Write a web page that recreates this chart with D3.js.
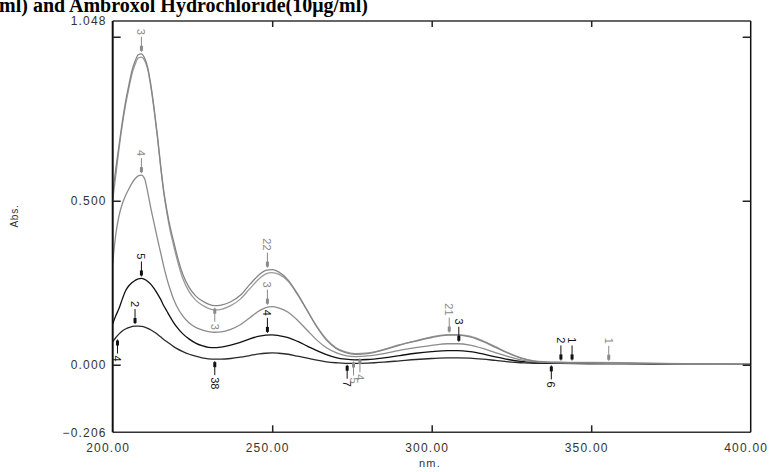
<!DOCTYPE html>
<html>
<head>
<meta charset="utf-8">
<script src="https://cdn.jsdelivr.net/npm/d3@7"></script>
<style>
  body { margin: 0; background: #fff; }
  .tick-label { font-family: "Liberation Sans", Arial, sans-serif; font-size: 12px; letter-spacing: 1.2px; fill: #333; }
  .mark { font-family: "Liberation Sans", Arial, sans-serif; font-size: 11px; }
</style>
</head>
<body>
<div class="canvas"></div>
<script>
// wavelength grid (nm) shared by every scan
const wavelengths = [200,201,202,203,204,205,206,207,208,209,210,211,212,213,214,215,216,217,218,219,220,
  222,224,226,228,230,232,234,237,240,243,246,248,250,252,255,258,261,264,267,270,273,276,
  280,285,290,295,300,305,308,312,316,320,324,328,332,336,340,350,360,370,380,390,400];

// absorbance of each scan
const scanA = [0.52,0.60,0.67,0.74,0.80,0.85,0.895,0.925,0.945,0.948,0.935,0.905,0.85,0.78,0.70,0.61,0.53,0.47,0.42,0.38,0.34,
  0.275,0.235,0.21,0.195,0.185,0.18,0.182,0.192,0.212,0.245,0.275,0.288,0.29,0.283,0.258,0.215,0.165,0.115,0.075,0.05,0.037,0.032,
  0.034,0.045,0.06,0.072,0.083,0.09,0.09,0.085,0.071,0.053,0.035,0.02,0.011,0.008,0.007,0.006,0.005,0.004,0.003,0.002,0.001];
const scanB = [0.50,0.58,0.66,0.73,0.79,0.84,0.885,0.915,0.935,0.938,0.928,0.90,0.845,0.775,0.695,0.605,0.525,0.462,0.41,0.368,0.328,
  0.262,0.222,0.197,0.182,0.172,0.167,0.169,0.18,0.20,0.232,0.263,0.277,0.281,0.276,0.254,0.213,0.165,0.117,0.078,0.052,0.039,0.034,
  0.036,0.047,0.061,0.073,0.085,0.092,0.092,0.087,0.073,0.055,0.036,0.021,0.012,0.009,0.008,0.007,0.006,0.004,0.003,0.002,0.001];
const scanC = [0.31,0.40,0.455,0.49,0.515,0.535,0.553,0.567,0.576,0.578,0.567,0.525,0.475,0.43,0.385,0.343,0.30,0.262,0.23,0.202,0.18,
  0.148,0.127,0.114,0.106,0.101,0.099,0.10,0.108,0.122,0.143,0.165,0.174,0.177,0.173,0.16,0.135,0.105,0.075,0.052,0.037,0.028,0.025,
  0.027,0.034,0.044,0.052,0.059,0.064,0.064,0.06,0.05,0.037,0.025,0.015,0.009,0.007,0.006,0.005,0.004,0.003,0.002,0.002,0.001];
const scanD = [0.125,0.15,0.172,0.20,0.225,0.24,0.25,0.257,0.262,0.263,0.26,0.254,0.245,0.232,0.217,0.20,0.18,0.163,0.146,0.13,0.116,
  0.094,0.078,0.066,0.058,0.053,0.052,0.054,0.06,0.068,0.079,0.087,0.09,0.091,0.089,0.083,0.071,0.057,0.043,0.031,0.022,0.017,0.015,
  0.016,0.021,0.028,0.035,0.04,0.043,0.043,0.04,0.033,0.024,0.016,0.01,0.007,0.006,0.006,0.005,0.004,0.003,0.002,0.002,0.001];
const scanE = [0.07,0.083,0.094,0.103,0.109,0.113,0.116,0.118,0.118,0.117,0.115,0.111,0.106,0.10,0.093,0.085,0.077,0.07,0.063,0.056,0.05,
  0.04,0.032,0.026,0.021,0.018,0.017,0.017,0.019,0.023,0.028,0.033,0.035,0.036,0.035,0.032,0.026,0.02,0.014,0.009,0.006,0.004,0.004,
  0.005,0.008,0.012,0.016,0.019,0.021,0.021,0.02,0.017,0.013,0.009,0.006,0.004,0.004,0.004,0.003,0.003,0.002,0.002,0.001,0.001];

const scans = [
  { values: scanE, color: "#2a2a2a" },
  { values: scanD, color: "#111" },
  { values: scanC, color: "#8c8c8c" },
  { values: scanB, color: "#9a9a9a" },
  { values: scanA, color: "#858585" }
];

// axis labels and ticks
const xLabels = [200, 250, 300, 350, 400];
const xTicks = [250, 300, 350];
const yLabels = [1.048, 0.5, 0, -0.206];
const yTicks = [1.0, 0.5, 0];

// peak / valley picks: [nm, abs, label, tone]
const peakPicks = [
  [209, 0.948, "3", "g"], [209, 0.578, "4", "g"], [209, 0.263, "5", "k"], [207, 0.118, "2", "k"],
  [248.5, 0.29, "22", "g"], [248.5, 0.177, "3", "g"], [248.5, 0.091, "4", "k"],
  [305.5, 0.092, "21", "g"], [308.5, 0.064, "3", "k"],
  [340.5, 0.007, "2", "k"], [344, 0.007, "1", "k"], [355.5, 0.006, "1", "g"]
];
const valleyPicks = [
  [232, 0.18, "3", "g"], [232, 0.017, "38", "k"], [201.5, 0.083, "4", "k"],
  [273.5, 0.006, "7", "k"], [275.5, 0.016, "5", "g"], [277.5, 0.026, "4", "g"],
  [337.5, 0.004, "6", "k"]
];

const svg = d3.select(".canvas").append("svg")
  .attr("width", 770)
  .attr("height", 472);

const x = d3.scaleLinear().domain([200, 400]).range([112.7, 750.7]);
const y = d3.scaleLinear().domain([-0.206, 1.048]).range([432.3, 21]);

// title, cut off at the top like the source scan
svg.append("text")
  .text("ml) and Ambroxol Hydrochloride(10μg/ml)")
  .attr("x", -1)
  .attr("y", 12)
  .attr("font-family", "'Liberation Serif', 'Times New Roman', serif")
  .attr("font-weight", "bold")
  .attr("font-size", 20)
  .attr("fill", "#000");

// spectra
const line = d3.line()
  .x((d, i) => x(wavelengths[i]))
  .y(d => y(d))
  .curve(d3.curveMonotoneX);

svg.append("g").selectAll("path")
  .data(scans)
  .enter()
  .append("path")
  .attr("d", d => line(d.values))
  .attr("fill", "none")
  .attr("stroke", d => d.color)
  .attr("stroke-width", 1.3);

// frame
svg.append("line").attr("x1", 112.7).attr("x2", 750.7).attr("y1", 21).attr("y2", 21)
  .attr("stroke", "#666").attr("stroke-width", 2);
svg.append("line").attr("x1", 112.7).attr("x2", 750.7).attr("y1", 432.3).attr("y2", 432.3)
  .attr("stroke", "#333").attr("stroke-width", 1.5);
svg.append("line").attr("x1", 112.7).attr("x2", 112.7).attr("y1", 21).attr("y2", 432.3)
  .attr("stroke", "#111").attr("stroke-width", 2);
svg.append("line").attr("x1", 750.7).attr("x2", 750.7).attr("y1", 21).attr("y2", 432.3)
  .attr("stroke", "#111").attr("stroke-width", 1.5);

// axes: labels
const yAxisGroup = svg.append("g").attr("transform", "translate(112.7,0)")
  .call(d3.axisLeft(y).tickValues(yLabels).tickSize(0).tickPadding(6)
    .tickFormat(d3.format(".3f")));
const xAxisGroup = svg.append("g").attr("transform", "translate(-5,432.3)")
  .call(d3.axisBottom(x).tickValues(xLabels).tickSize(0).tickPadding(11)
    .tickFormat(d3.format(".2f")));
[yAxisGroup, xAxisGroup].forEach(g => {
  g.select(".domain").remove();
  g.selectAll("text").attr("class", "tick-label").attr("font-size", null).attr("font-family", null);
});

// axes: inward ticks
const tickAxes = [
  [d3.axisLeft(y).tickValues(yTicks).tickSize(-8), "translate(112.7,0)"],
  [d3.axisRight(y).tickValues(yTicks).tickSize(-8), "translate(750.7,0)"],
  [d3.axisBottom(x).tickValues(xTicks).tickSize(-7), "translate(0,432.3)"],
  [d3.axisTop(x).tickValues(xTicks).tickSize(-6), "translate(0,21)"]
];
tickAxes.forEach(([axis, tr]) => {
  const g = svg.append("g").attr("transform", tr).call(axis.tickFormat(""));
  g.select(".domain").remove();
  g.selectAll("line").attr("stroke", "#222").attr("stroke-width", 1.5);
});

// axis titles
svg.append("text").text("nm.")
  .attr("x", 430).attr("y", 467)
  .attr("text-anchor", "middle")
  .attr("class", "tick-label").style("font-size", "11px");
svg.append("text").text("Abs.")
  .attr("transform", "translate(18,216) rotate(-90)")
  .attr("text-anchor", "middle")
  .attr("class", "tick-label").style("font-size", "10px").style("letter-spacing", "0.8px");

// peak picks: arrow pointing down onto the curve, label above
const tone = t => (t === "g" ? "#8a8a8a" : "#111");
const picks = svg.append("g");

peakPicks.forEach(([nm, v, lab, t]) => {
  const px = x(nm), py = y(v);
  picks.append("line").attr("x1", px).attr("x2", px).attr("y1", py - 17).attr("y2", py - 2)
    .attr("stroke", tone(t)).attr("stroke-width", 1);
  picks.append("rect").attr("x", px - 1.5).attr("y", py - 8).attr("width", 3).attr("height", 5)
    .attr("fill", tone(t));
  picks.append("text").text(lab)
    .attr("class", "mark")
    .attr("transform", `translate(${px - 4},${py - 19}) rotate(90)`)
    .attr("text-anchor", "end")
    .attr("fill", tone(t));
});

// valley picks: arrow pointing up at the curve, label below
valleyPicks.forEach(([nm, v, lab, t]) => {
  const px = x(nm), py = y(v);
  picks.append("line").attr("x1", px).attr("x2", px).attr("y1", py + 2).attr("y2", py + 16)
    .attr("stroke", tone(t)).attr("stroke-width", 1);
  picks.append("rect").attr("x", px - 1.5).attr("y", py + 3).attr("width", 3).attr("height", 5)
    .attr("fill", tone(t));
  picks.append("text").text(lab)
    .attr("class", "mark")
    .attr("transform", `translate(${px - 4},${py + 18}) rotate(90)`)
    .attr("text-anchor", "start")
    .attr("fill", tone(t));
});
</script>
</body>
</html>
